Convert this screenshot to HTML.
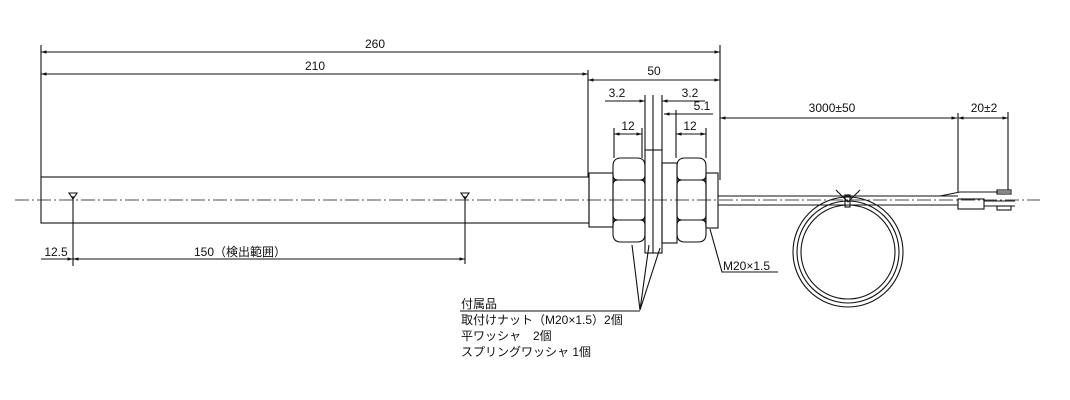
<!DOCTYPE html>
<html><head><meta charset="utf-8"><style>
html,body{margin:0;padding:0;background:#fff;}
svg{display:block;}
text{font-family:"Liberation Sans","Noto Sans CJK JP",sans-serif;font-size:12px;fill:#111;stroke:none;}
</style></head><body>
<svg width="1070" height="400" viewBox="0 0 1070 400" xmlns="http://www.w3.org/2000/svg" stroke="#111" fill="none" stroke-width="1.1">
<defs><marker id="a" viewBox="0 0 10 10" refX="10" refY="5" markerWidth="8" markerHeight="5" orient="auto-start-reverse"><path d="M0,2 L10,5 L0,8 z" fill="#111" stroke="none"/></marker></defs>
<line x1="15" y1="200" x2="1040" y2="200" stroke-dasharray="14,3,2,3" stroke-width="0.8"/>
<rect x="41" y="177" width="548" height="46"/>
<rect x="589" y="173" width="24" height="54"/>
<rect x="706" y="173" width="12" height="55"/>
<path d="M613,166 Q613,158 621,158 L637,158 Q645,158 645,166 L645,175 Q645,180 640,180 Q645,180 645,185 L645,215 Q645,220 640,220 Q645,220 645,225 L645,234 Q645,242 637,242 L621,242 Q613,242 613,234 L613,225 Q613,220 618,220 Q613,220 613,215 L613,185 Q613,180 618,180 Q613,180 613,175 Z"/>
<line x1="613" y1="180" x2="645" y2="180"/><line x1="613" y1="220" x2="645" y2="220"/>
<path d="M677,166 Q677,158 685,158 L698,158 Q706,158 706,166 L706,175 Q706,180 701,180 Q706,180 706,185 L706,215 Q706,220 701,220 Q706,220 706,225 L706,234 Q706,242 698,242 L685,242 Q677,242 677,234 L677,225 Q677,220 682,220 Q677,220 677,215 L677,185 Q677,180 682,180 Q677,180 677,175 Z"/>
<line x1="677" y1="180" x2="706" y2="180"/><line x1="677" y1="220" x2="706" y2="220"/>
<rect x="645" y="150" width="17" height="103"/><line x1="653" y1="150" x2="653" y2="253"/>
<rect x="662" y="163" width="15" height="80"/>
<line x1="718" y1="196" x2="958" y2="196"/><line x1="718" y1="205" x2="958" y2="205"/>
<path d="M940,196 L960,192 L1010,192"/>
<rect x="958" y="199" width="26" height="10"/>
<line x1="984" y1="201" x2="1015" y2="201"/><line x1="984" y1="206" x2="1015" y2="206"/>
<rect x="997" y="190" width="14" height="4"/><rect x="997" y="206" width="14" height="4"/>
<circle cx="848" cy="252" r="55"/><circle cx="848" cy="252" r="51"/><circle cx="848" cy="252" r="47"/>
<path d="M836,190 L848,202 L860,190"/><rect x="845" y="195" width="5" height="12"/>
<line x1="41" y1="45" x2="41" y2="177"/><line x1="720" y1="45" x2="720" y2="180"/><line x1="588" y1="70" x2="588" y2="177"/>
<line x1="41" y1="52" x2="720" y2="52" marker-start="url(#a)" marker-end="url(#a)"/>
<text x="375" y="48" text-anchor="middle">260</text>
<line x1="41" y1="74" x2="588" y2="74" marker-start="url(#a)" marker-end="url(#a)"/>
<text x="315" y="70" text-anchor="middle">210</text>
<line x1="588" y1="80" x2="720" y2="80" marker-start="url(#a)" marker-end="url(#a)"/>
<text x="654" y="75" text-anchor="middle">50</text>
<line x1="645" y1="95" x2="645" y2="150"/><line x1="662" y1="95" x2="662" y2="150"/><line x1="653" y1="95" x2="653" y2="150"/>
<line x1="605" y1="101" x2="645" y2="101" marker-end="url(#a)"/><line x1="662" y1="101" x2="705" y2="101" marker-start="url(#a)"/>
<text x="617" y="97" text-anchor="middle">3.2</text><text x="690" y="97" text-anchor="middle">3.2</text>
<line x1="664" y1="114" x2="713" y2="114" marker-start="url(#a)"/>
<text x="702" y="110" text-anchor="middle">5.1</text>
<line x1="614" y1="128" x2="614" y2="158"/><line x1="642" y1="128" x2="642" y2="158"/>
<line x1="676" y1="110" x2="676" y2="158"/><line x1="706" y1="128" x2="706" y2="158"/>
<line x1="614" y1="134" x2="642" y2="134" marker-start="url(#a)" marker-end="url(#a)"/>
<line x1="676" y1="134" x2="706" y2="134" marker-start="url(#a)" marker-end="url(#a)"/>
<text x="628" y="130" text-anchor="middle">12</text><text x="690" y="130" text-anchor="middle">12</text>
<line x1="720" y1="118" x2="957" y2="118" marker-start="url(#a)" marker-end="url(#a)"/>
<line x1="958" y1="113" x2="958" y2="192"/><line x1="1008" y1="112" x2="1008" y2="190"/>
<line x1="958" y1="118" x2="1008" y2="118" marker-start="url(#a)" marker-end="url(#a)"/>
<text x="832" y="112" text-anchor="middle">3000±50</text><text x="984" y="112" text-anchor="middle">20±2</text>
<path d="M69,193 L77,193 L73,199 z"/><path d="M461,193 L469,193 L465,199 z"/>
<line x1="73" y1="196" x2="73" y2="266"/><line x1="465" y1="196" x2="465" y2="264"/>
<line x1="41" y1="259" x2="73" y2="259" marker-end="url(#a)"/>
<line x1="73" y1="259" x2="465" y2="259" marker-start="url(#a)" marker-end="url(#a)"/>
<text x="56" y="256" text-anchor="middle">12.5</text>
<text x="240" y="256" text-anchor="middle">150（検出範囲）</text>
<path d="M710,229 L722,272 L778,272"/>
<text x="723" y="270">M20×1.5</text>
<path d="M632,245 L640,310 L649,245 M640,310 L660,248"/>
<line x1="460" y1="311" x2="640" y2="311"/>
<text x="461" y="308">付属品</text>
<text x="461" y="324">取付けナット（M20×1.5）2個</text>
<text x="461" y="340">平ワッシャ　2個</text>
<text x="461" y="356">スプリングワッシャ 1個</text>
</svg>
</body></html>
